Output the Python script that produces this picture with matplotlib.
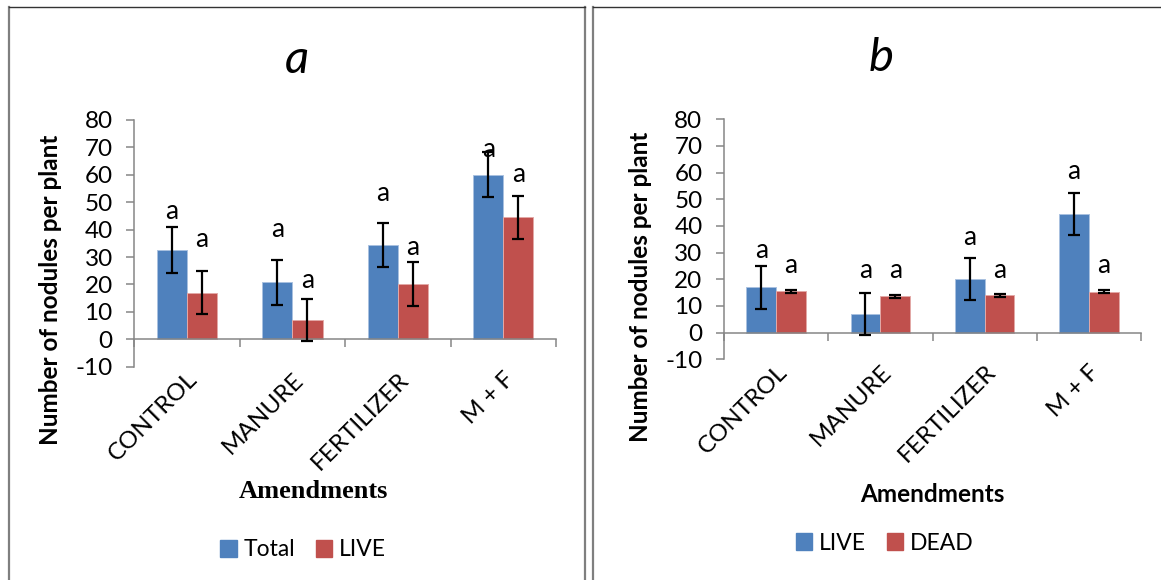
import matplotlib
matplotlib.use('Agg')
import matplotlib.pyplot as plt
import matplotlib.transforms as mtransforms
from matplotlib.lines import Line2D
from matplotlib.patches import Patch
import numpy as np

# ---------------- data ----------------
categories = ['CONTROL', 'MANURE', 'FERTILIZER', 'M + F']

a_total = [32.6, 20.8, 34.4, 60.0]
a_total_err = [8.3, 8.2, 8.2, 8.2]
a_live = [17.0, 7.0, 20.2, 44.5]
a_live_err = [7.9, 7.8, 7.9, 7.9]

b_live = [17.0, 7.0, 20.2, 44.5]
b_live_err = [8.0, 7.8, 7.9, 7.9]
b_dead = [15.5, 13.7, 14.0, 15.4]
b_dead_err = [0.6, 0.6, 0.6, 0.6]

sig_letter = 'a'
# heights (data units) where the significance letters were placed
a_total_lab = [46.7, 39.9, 53.3, 69.3]
a_live_lab = [36.4, 21.5, 33.6, 60.0]
b_live_lab = [30.7, 23.4, 35.7, 60.4]
b_dead_lab = [25.0, 23.4, 23.4, 25.0]

yticks = list(range(-10, 81, 10))

# ---------------- style ----------------
W, H = 1161, 580
BLUE = '#4F81BD'
RED = '#C0504D'
BLUE_EDGE = '#A9C1E0'
RED_EDGE = '#E3A9A7'
GRAY = '#868686'
SANS = ['Lato', 'DejaVu Sans']
plt.rcParams['font.family'] = SANS
plt.rcParams['axes.unicode_minus'] = False

fig = plt.figure(figsize=(W / 100, H / 100), dpi=100)
fig.patch.set_facecolor('white')


def fx(x):
    return x / W


def fy(y):
    return 1 - y / H


def px_axes(x0, y0, x1, y1):
    return fig.add_axes([fx(x0), fy(y1), fx(x1) - fx(x0), fy(y0) - fy(y1)])


def draw_panel(ax, s1, e1, l1, s2, e2, l2):
    n = len(categories)
    x = np.arange(n)
    w = 1 / 3.5
    ax.bar(x - w / 2, s1, w, color=BLUE, edgecolor=BLUE_EDGE, linewidth=0.7, zorder=2)
    ax.bar(x + w / 2, s2, w, color=RED, edgecolor=RED_EDGE, linewidth=0.7, zorder=2)
    for xs, s, e in ((x - w / 2, s1, e1), (x + w / 2, s2, e2)):
        ax.errorbar(xs, s, yerr=e, fmt='none', ecolor='black', elinewidth=1.6,
                    capsize=4, capthick=1.6, zorder=3)
    for xs, ly in ((x - w / 2, l1), (x + w / 2, l2)):
        for xi, yi in zip(xs, ly):
            ax.text(xi, yi, sig_letter, ha='center', va='center', fontsize=19, zorder=4)

    ax.set_xlim(-0.5, n - 0.5)
    ax.set_ylim(-10, 80)
    ax.set_yticks(yticks)
    ax.set_xticks(np.arange(n + 1) - 0.5)
    for s in ('top', 'right'):
        ax.spines[s].set_visible(False)
    ax.spines['left'].set_color(GRAY)
    ax.spines['left'].set_linewidth(1.1)
    ax.spines['bottom'].set_color(GRAY)
    ax.spines['bottom'].set_linewidth(1.1)
    ax.spines['bottom'].set_position(('data', 0))
    ax.tick_params(axis='y', direction='out', length=5.5, width=1.1, color=GRAY,
                   pad=10, labelsize=17.5)
    ax.tick_params(axis='x', direction='out', length=6, width=1.1, color=GRAY,
                   labelbottom=False)
    trans = mtransforms.blended_transform_factory(ax.transData, ax.transAxes)
    off = mtransforms.ScaledTranslation(0 / 100, -2 / 100, fig.dpi_scale_trans)
    for i, c in enumerate(categories):
        ax.text(i, 0, c, transform=trans + off, ha='right', va='top', rotation=45,
                rotation_mode='anchor', fontsize=17.5)


# ---------------- panel a ----------------
axa = px_axes(134.3, 120, 556, 366.7)
draw_panel(axa, a_total, a_total_err, a_total_lab, a_live, a_live_err, a_live_lab)

# ---------------- panel b ----------------
axb = px_axes(724, 119.3, 1141, 359.3)
draw_panel(axb, b_live, b_live_err, b_live_lab, b_dead, b_dead_err, b_dead_lab)

# titles
fig.text(fx(297), fy(60), 'a', style='italic', fontsize=34, ha='center', va='center')
fig.text(fx(881), fy(58), 'b', style='italic', fontsize=34, ha='center', va='center')

# y labels
fig.text(fx(50), fy(290), 'Number of nodules per plant', rotation=90, fontweight='bold',
         fontsize=17.5, ha='center', va='center')
fig.text(fx(640), fy(287), 'Number of nodules per plant', rotation=90, fontweight='bold',
         fontsize=17.5, ha='center', va='center')

# x labels
fig.text(fx(313), fy(492), 'Amendments', family=['Liberation Serif', 'DejaVu Serif'],
         fontweight='bold', fontsize=19, ha='center', va='center')
fig.text(fx(932), fy(494), 'Amendments', fontweight='bold', fontsize=17.5,
         ha='center', va='center')

# legends
leg_kw = dict(loc='center', ncol=2, frameon=False, fontsize=16.5, handlelength=0.7,
              handleheight=0.8, handletextpad=0.3, columnspacing=0.9)
fig.legend([Patch(color=BLUE), Patch(color=RED)], ['Total', 'LIVE'],
           bbox_to_anchor=(fx(303), fy(550)), bbox_transform=fig.transFigure, **leg_kw)
fig.legend([Patch(color=BLUE), Patch(color=RED)], ['LIVE', 'DEAD'],
           bbox_to_anchor=(fx(885), fy(543)), bbox_transform=fig.transFigure, **leg_kw)


# panel borders
def fline(x0, y0, x1, y1, color, lw):
    fig.add_artist(Line2D([fx(x0), fx(x1)], [fy(y0), fy(y1)], color=color, lw=lw,
                          transform=fig.transFigure))


fline(9, 7, 9, 580, '#7F7F7F', 1.6)
fline(585, 7, 585, 580, '#7F7F7F', 1.6)
fline(9, 7, 585, 7, '#333333', 1.0)
fline(593, 7, 593, 580, '#7F7F7F', 1.6)
fline(593, 7, 1161, 7, '#333333', 1.0)

fig.savefig('out.png', dpi=100)
